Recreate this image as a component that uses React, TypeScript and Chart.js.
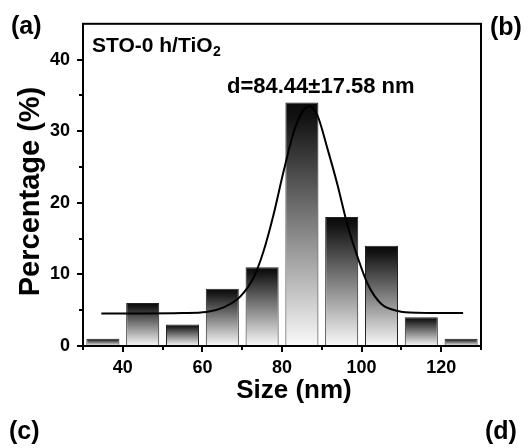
import React, { useEffect, useRef } from "react";
import { Chart, registerables } from "chart.js";

Chart.register(...registerables);

const binCenters = [35, 45, 55, 65, 75, 85, 95, 105, 115, 125];
const percentages = [1, 6, 3, 8, 11, 34, 18, 14, 4, 1];

const fitX = [34.6, 45, 55, 61, 65.3, 69.5, 72.9, 75.4, 77.9, 80.4, 83.0, 85.1, 86.9, 88.9, 91.4, 93.9, 96.4, 99.0, 101.5, 104.9, 109.1, 114.1, 125.5];
const fitY = [4.55, 4.55, 4.6, 4.75, 5.4, 6.9, 9.6, 13.3, 18.4, 24.4, 30.0, 32.7, 33.5, 32.2, 27.6, 22.6, 17.0, 12.4, 8.7, 5.9, 4.9, 4.65, 4.6];

const xMajorTicks = [40, 60, 80, 100, 120];
const xMinorTicks = [30, 50, 70, 90, 110, 130];
const yMajorTicks = [0, 10, 20, 30, 40];
const yMinorTicks = [5, 15, 25, 35];

const sampleLabel = "STO-0 h/TiO";
const sampleSub = "2";
const fitLabel = "d=84.44\u00b117.58 nm";
const xTitle = "Size (nm)";
const yTitle = "Percentage (%)";

const FONT = 'Arial, "Liberation Sans", Helvetica, sans-serif';

export default function App() {
  const ref = useRef<HTMLCanvasElement | null>(null);

  useEffect(() => {
    document.body.style.margin = "0";
    const canvas = ref.current;
    if (!canvas) return;

    const decor = {
      id: "decor",
      afterDraw(chart: any) {
        const ctx = chart.ctx;
        const a = chart.chartArea;
        const xs = chart.scales.x;
        const ys = chart.scales.y;
        ctx.save();
        ctx.strokeStyle = "#000";
        ctx.lineWidth = 2;
        ctx.strokeRect(a.left, a.top, a.right - a.left, a.bottom - a.top);
        ctx.lineWidth = 2;
        ctx.beginPath();
        for (const v of xMajorTicks) {
          const p = Math.round(xs.getPixelForValue(v));
          ctx.moveTo(p, a.bottom);
          ctx.lineTo(p, a.bottom + 6);
        }
        for (const v of xMinorTicks) {
          const p = Math.round(xs.getPixelForValue(v));
          ctx.moveTo(p, a.bottom);
          ctx.lineTo(p, a.bottom + 4);
        }
        for (const v of yMajorTicks) {
          const p = Math.round(ys.getPixelForValue(v));
          ctx.moveTo(a.left, p);
          ctx.lineTo(a.left - 6, p);
        }
        for (const v of yMinorTicks) {
          const p = Math.round(ys.getPixelForValue(v));
          ctx.moveTo(a.left, p);
          ctx.lineTo(a.left - 4, p);
        }
        ctx.stroke();

        ctx.fillStyle = "#000";
        ctx.textBaseline = "alphabetic";
        ctx.textAlign = "left";
        // sample label
        ctx.font = `bold 21px ${FONT}`;
        ctx.fillText(sampleLabel, 92, 52);
        const w = ctx.measureText(sampleLabel).width;
        ctx.font = `bold 14px ${FONT}`;
        ctx.fillText(sampleSub, 92 + w + 0.5, 56);
        // fit label
        ctx.font = `bold 22px ${FONT}`;
        ctx.fillText(fitLabel, 227, 93);
        // panel letters
        ctx.font = `bold 25px ${FONT}`;
        ctx.fillText("(a)", 11, 34);
        ctx.fillText("(b)", 490, 35);
        ctx.fillText("(c)", 9, 439);
        ctx.fillText("(d)", 485, 439);
        // axis titles
        ctx.textAlign = "center";
        ctx.font = `bold 26px ${FONT}`;
        ctx.fillText(xTitle, 294, 398);
        ctx.save();
        ctx.translate(39, 191.5);
        ctx.rotate(-Math.PI / 2);
        ctx.font = `bold 29px ${FONT}`;
        ctx.fillText(yTitle, 0, 0);
        ctx.restore();
        ctx.restore();
      },
    };

    const barData = binCenters.map((x, i) => ({ x, y: percentages[i] }));
    const fitData = fitX.map((x, i) => ({ x, y: fitY[i] }));

    const chart = new Chart(canvas, {
      type: "bar",
      data: {
        datasets: [
          {
            type: "line",
            data: fitData,
            borderColor: "#000",
            borderWidth: 2,
            pointRadius: 0,
            fill: false,
            cubicInterpolationMode: "monotone",
            order: 0,
          } as any,
          {
            type: "bar",
            data: barData,
            barPercentage: 0.83,
            categoryPercentage: 1,
            borderColor: "#222",
            borderWidth: 1,
            borderSkipped: false,
            backgroundColor: (c: any) => {
              const ch = c.chart;
              if (!ch.chartArea || c.type !== "data" || !c.raw) return "#666";
              const ys = ch.scales.y;
              const top = ys.getPixelForValue(c.raw.y);
              const bot = ys.getPixelForValue(0);
              const g = ch.ctx.createLinearGradient(0, top, 0, bot);
              g.addColorStop(0, "#0a0a0a");
              g.addColorStop(0.06, "#121212");
              g.addColorStop(1, "#fafafa");
              return g;
            },
            order: 1,
          } as any,
        ],
      },
      options: {
        responsive: false,
        animation: false,
        layout: { padding: { top: 21, right: 51, left: 0, bottom: 0 } },
        plugins: { legend: { display: false }, tooltip: { enabled: false } },
        scales: {
          x: {
            type: "linear",
            min: 30,
            max: 130,
            offset: false,
            grid: { display: false, drawTicks: false },
            border: { display: false },
            afterFit: (s: any) => {
              s.height = 102;
            },
            ticks: {
              stepSize: 10,
              autoSkip: false,
              maxRotation: 0,
              padding: 11,
              color: "#000",
              font: { family: FONT, size: 18, weight: "bold" },
              callback: (v: any) => (xMajorTicks.includes(Number(v)) ? String(v) : ""),
            },
          },
          y: {
            type: "linear",
            min: 0,
            max: 45,
            grid: { display: false, drawTicks: false },
            border: { display: false },
            afterFit: (s: any) => {
              s.width = 83;
            },
            ticks: {
              stepSize: 5,
              autoSkip: false,
              padding: 13,
              color: "#000",
              font: { family: FONT, size: 18, weight: "bold" },
              callback: (v: any) => (yMajorTicks.includes(Number(v)) ? String(v) : ""),
            },
          },
        },
      },
      plugins: [decor],
    });

    return () => chart.destroy();
  }, []);

  return (
    <div style={{ position: "fixed", left: 0, top: 0, width: 532, height: 448, background: "#fff" }}>
      <canvas ref={ref} width={532} height={448} style={{ width: 532, height: 448 }} />
    </div>
  );
}
